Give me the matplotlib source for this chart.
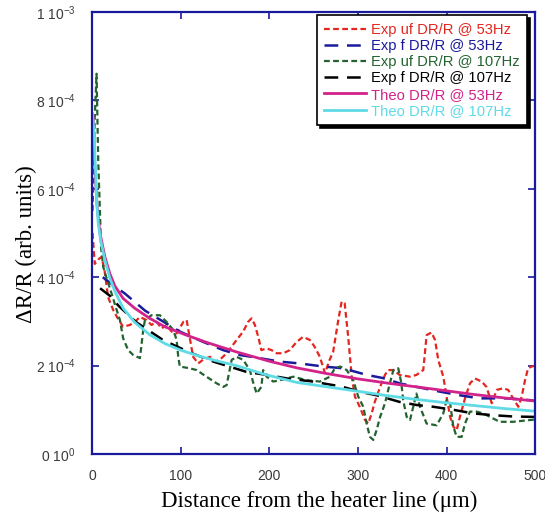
"""Thermoreflectance signal vs distance from the heater line"""

import matplotlib

matplotlib.use("Agg")
import matplotlib.pyplot as plt

# ---- data (x in um, y in units of 1e-4) ----
uf53_x = [0.5, 3, 7, 10.7, 14, 18, 24, 29.5, 35, 42.7, 48.3, 54, 61.5, 67, 72.8, 78.4,
          84, 89.7, 95.4, 103, 106.7, 110, 114, 119.7, 125, 133, 138.6, 144, 151.8,
          157.5, 163, 170.5, 176, 180, 183.7, 187.5, 191, 197, 202.6, 208, 215.7, 223,
          231, 238, 245.8, 251, 257, 262.8, 268, 272, 277.8, 281.6, 285, 289, 293,
          296.6, 302, 308, 311.6, 315.5, 319, 325, 330.5, 334, 340, 347, 358.7, 366,
          373.7, 377.5, 383, 387, 390.6, 396.3, 400, 404, 407.6, 411.4, 415, 420.8,
          426.4, 432, 439.6, 445, 451, 456.6, 464, 469.6, 475, 481, 484.8, 488.5, 492,
          496, 500]
uf53_y = [5.0, 4.3, 4.4, 4.46, 4.16, 3.55, 3.25, 3.05, 2.88, 2.92, 2.99, 3.1, 3.03,
          2.92, 2.99, 2.84, 2.92, 2.77, 2.73, 2.99, 3.03, 2.65, 2.2, 2.05, 2.13, 2.2,
          2.09, 2.13, 2.28, 2.43, 2.58, 2.77, 2.99, 3.07, 2.92, 2.65, 2.35, 2.39, 2.35,
          2.28, 2.28, 2.35, 2.54, 2.65, 2.58, 2.43, 2.2, 1.83, 2.13, 2.31, 3.03, 3.45,
          3.41, 2.65, 1.75, 1.3, 1.07, 0.77, 0.69, 0.92, 1.18, 1.52, 1.79, 1.9, 1.9,
          1.79, 1.75, 1.79, 1.9, 2.69, 2.75, 2.58, 2.13, 1.75, 1.3, 0.84, 0.62, 0.54,
          0.84, 1.26, 1.6, 1.71, 1.64, 1.52, 1.15, 1.45, 1.49, 1.45, 1.26, 1.07, 1.3,
          1.67, 1.94, 1.98, 2.0]

f53_x = [12, 25, 37, 60, 99, 125, 148, 167, 189, 212, 234, 261, 283, 310, 328, 347,
         366, 393, 415, 437, 468, 494, 500]
f53_y = [4.0, 3.8, 3.63, 3.24, 2.77, 2.54, 2.35, 2.24, 2.17, 2.09, 2.05, 1.98, 1.94,
         1.79, 1.72, 1.6, 1.52, 1.41, 1.33, 1.26, 1.26, 1.22, 1.2]

uf107_x = [0.5, 3, 5, 6.9, 8.8, 10, 12.5, 14.4, 22, 27.7, 31.4, 35, 40.7, 46.4, 54,
           57.7, 59.6, 67, 76.5, 84, 91.5, 95.4, 97.2, 99, 110, 118, 129, 140.5, 148,
           151.8, 157.5, 163, 170.5, 178, 182, 185.7, 191, 193, 197, 204.4, 212, 227,
           242, 257, 268.4, 274, 280, 287.3, 294.7, 300.3, 306, 309.8, 313.5, 317.3,
           321, 325, 330.5, 336, 340, 345.5, 349, 351, 355, 358.7, 362.4, 366, 370,
           377.5, 388.8, 396.3, 400, 404, 407.6, 411.4, 417, 420.8, 426.4, 434,
           441.4, 449, 460, 475, 494, 500]
uf107_y = [5.5, 7.6, 8.6, 6.65, 5.52, 4.69, 4.24, 4.1, 3.63, 3.26, 3.03, 2.62, 2.35,
           2.24, 2.17, 2.81, 3.03, 3.14, 3.14, 2.99, 2.81, 2.58, 2.2, 1.98, 1.94, 1.9,
           1.75, 1.6, 1.52, 1.56, 2.13, 2.2, 2.13, 1.9, 1.6, 1.37, 1.52, 1.9, 1.75,
           1.64, 1.67, 1.75, 1.67, 1.64, 1.75, 1.94, 1.98, 1.9, 1.67, 1.3, 1.07, 0.69,
           0.39, 0.32, 0.54, 0.84, 1.15, 1.6, 1.9, 1.94, 1.6, 1.22, 0.84, 0.77, 1.07,
           1.37, 1.07, 0.69, 0.65, 0.92, 1.22, 1.15, 0.62, 0.39, 0.39, 0.69, 0.96,
           0.96, 0.92, 0.84, 0.73, 0.73, 0.77, 0.78]

f107_x = [9, 20, 30, 50, 80, 110, 137, 174, 197, 220, 249, 272, 283, 302, 321, 347,
          366, 385, 408, 430, 452, 475, 500]
f107_y = [3.75, 3.58, 3.35, 2.98, 2.58, 2.3, 2.09, 1.86, 1.79, 1.71, 1.64, 1.56, 1.52,
          1.41, 1.33, 1.18, 1.11, 1.07, 1.0, 0.92, 0.88, 0.85, 0.84]

theo53_x = [1.2, 3.2, 5.8, 8.8, 14.4, 20, 25.7, 35, 48, 65, 82, 105, 130, 163, 200,
            231, 265, 300, 335, 366, 400, 430, 465, 500]
theo53_y = [7.63, 6.43, 5.57, 5.0, 4.46, 4.08, 3.8, 3.52, 3.3, 3.07, 2.88, 2.7, 2.52,
            2.31, 2.1, 1.95, 1.82, 1.70, 1.6, 1.52, 1.43, 1.35, 1.27, 1.2]

theo107_x = [0.5, 2.4, 5.1, 6.9, 10, 14.4, 20, 25.7, 35, 48, 65, 82, 100, 120, 140,
             163, 195, 231, 265, 300, 330, 360, 395, 430, 465, 500]
theo107_y = [7.7, 7.18, 5.75, 5.22, 4.8, 4.39, 3.98, 3.68, 3.3, 2.98, 2.7, 2.5, 2.35,
             2.22, 2.11, 2.0, 1.8, 1.62, 1.52, 1.42, 1.33, 1.25, 1.17, 1.1, 1.03, 0.97]

x_ticks = [0, 100, 200, 300, 400, 500]
y_ticks = [0, 2e-4, 4e-4, 6e-4, 8e-4, 1e-3]
y_tick_labels = [r"$0\ 10^{0}$", r"$2\ 10^{-4}$", r"$4\ 10^{-4}$",
                 r"$6\ 10^{-4}$", r"$8\ 10^{-4}$", r"$1\ 10^{-3}$"]

NAVY = "#1a1a9c"

plt.rcParams["font.family"] = ["Liberation Sans", "DejaVu Sans"]
plt.rcParams["mathtext.fontset"] = "custom"
plt.rcParams["mathtext.rm"] = "Liberation Sans"
plt.rcParams["mathtext.it"] = "Liberation Sans:italic"
plt.rcParams["mathtext.bf"] = "Liberation Sans:bold"


def scaled(values):
    return [v * 1e-4 for v in values]


fig = plt.figure(figsize=(5.45, 5.16), dpi=100)
ax = fig.add_axes([0.169, 0.120, 0.813, 0.857])

# experimental curves
ax.plot(uf53_x, scaled(uf53_y), color="#e3261f", lw=1.6, dashes=(2.6, 1.5),
        label="Exp uf DR/R @ 53Hz")
ax.plot(f53_x, scaled(f53_y), color=NAVY, lw=1.8, dashes=(5.5, 3.5),
        label="Exp f DR/R @ 53Hz")
ax.plot(uf107_x, scaled(uf107_y), color="#22632f", lw=1.6, dashes=(2.6, 1.5),
        label="Exp uf DR/R @ 107Hz")
ax.plot(f107_x, scaled(f107_y), color="black", lw=1.8, dashes=(5.5, 3.5),
        label="Exp f DR/R @ 107Hz")

# theoretical curves
ax.plot(theo53_x, scaled(theo53_y), color="#d2238a", lw=2.0,
        label="Theo DR/R @ 53Hz")
ax.plot(theo107_x, scaled(theo107_y), color="#5fdbe6", lw=2.0,
        label="Theo DR/R @ 107Hz")

ax.set_xlim(0, 500)
ax.set_ylim(0, 1e-3)
ax.set_xticks(x_ticks)
ax.set_yticks(y_ticks)
ax.set_yticklabels(y_tick_labels)

for spine in ax.spines.values():
    spine.set_color(NAVY)
    spine.set_linewidth(1.6)

ax.tick_params(direction="in", length=5, width=1.2, color=NAVY,
               top=True, right=True, labelsize=10, labelcolor="#3a3a3a")
ax.tick_params(axis="x", pad=11)
ax.tick_params(axis="y", pad=12)

ax.set_xlabel("Distance from the heater line (\u03bcm)", family="Liberation Serif",
              fontsize=16.5)
ax.set_ylabel("\u0394R/R (arb. units)", family="Liberation Serif", fontsize=16.5)
ax.xaxis.set_label_coords(0.512, -0.082)
ax.yaxis.set_label_coords(-0.125, 0.475)

leg = ax.legend(loc="upper right", bbox_to_anchor=(0.982, 0.992), borderaxespad=0,
                fontsize=10.6, frameon=True, fancybox=False, framealpha=1,
                edgecolor="black", labelcolor="linecolor", handlelength=2.85,
                handletextpad=0.34, labelspacing=0.15, borderpad=0.5,
                shadow={"color": "black", "alpha": 1})
leg.get_frame().set_linewidth(1.2)

fig.savefig("out.png", dpi=100)
